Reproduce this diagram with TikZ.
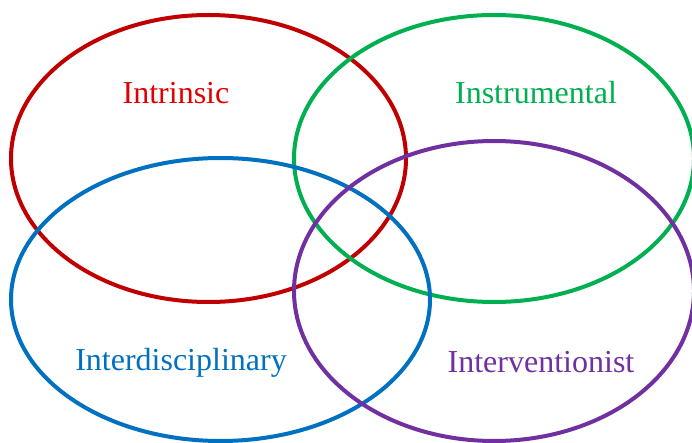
\documentclass[tikz,border=0pt]{standalone}
\usepackage{fontspec}
\setmainfont{Liberation Serif}
\definecolor{cred}{HTML}{C00000}
\definecolor{tred}{HTML}{E00000}
\definecolor{cgreen}{HTML}{00B050}
\definecolor{cblue}{HTML}{0070C0}
\definecolor{cpurple}{HTML}{7030A0}
\begin{document}
\begin{tikzpicture}[x=1pt,y=-1pt,
  ring/.style={line width=4pt},
  lbl/.style={font=\fontsize{32}{36}\selectfont, inner sep=0pt}]
\useasboundingbox (0,0) rectangle (692,443);
\draw[ring,cred] (208.5,158.5) ellipse [x radius=197.5, y radius=143.5];
\draw[ring,cgreen] (494,158.5) ellipse [x radius=200, y radius=143.5];
\draw[ring,cblue] (220.5,299.5) ellipse [x radius=209.5, y radius=141.5];
\draw[ring,cpurple] (494,291) ellipse [x radius=200, y radius=150];
\node[lbl,text=tred] (intr) at (176,93) {Intrinsic};
\node[lbl,text=cgreen] (inst) at (536,93) {Instrumental};
\node[lbl,text=cblue] (intd) at (181,363) {Interdisciplinary};
\node[lbl,text=cpurple] (intv) at (541,362) {Interventionist};
\end{tikzpicture}
\end{document}
